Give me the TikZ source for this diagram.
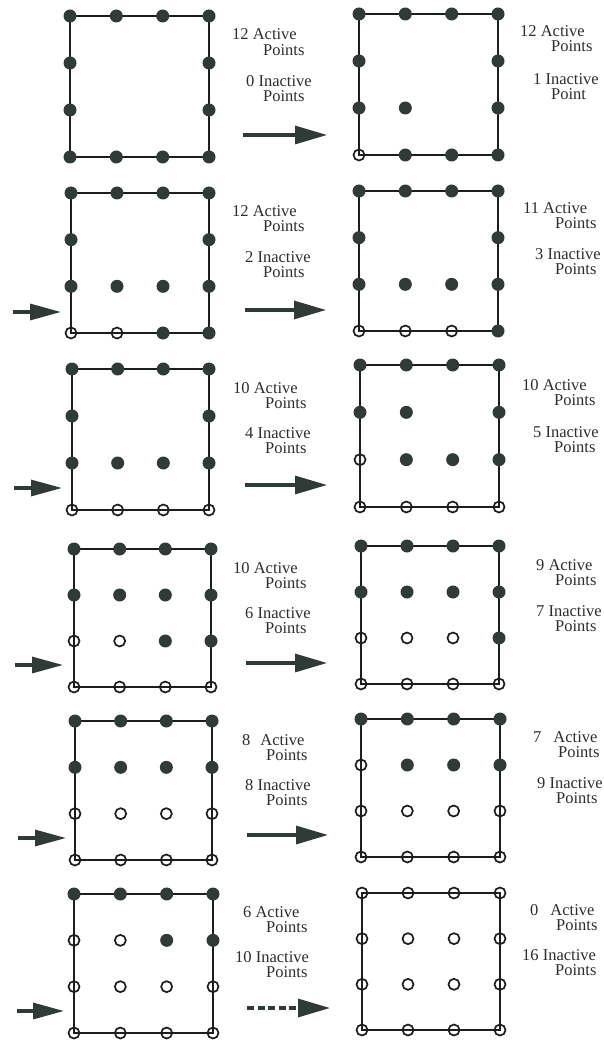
\documentclass[tikz,border=0pt]{standalone}
\usepackage{fontspec}
\setmainfont{Liberation Serif}
\usetikzlibrary{arrows.meta,backgrounds}

\definecolor{dotfill}{RGB}{48,58,54}
\definecolor{edgeink}{RGB}{28,30,29}
\definecolor{labelink}{RGB}{45,45,45}

\tikzset{
  act/.style={circle, fill=dotfill, inner sep=0pt, minimum size=13pt},
  inact/.style={circle, draw=edgeink, line width=1.7pt, inner sep=0pt, minimum size=11pt},
  vac/.style={coordinate},
  frame/.style={draw=edgeink, line width=1.5pt},
  flow/.style={draw=dotfill, line width=3.2pt, -{Triangle[length=32pt,width=18pt]}},
  flowdash/.style={flow, dash pattern=on 7pt off 3.5pt},
  feed/.style={draw=dotfill, line width=3.2pt, -{Triangle[length=31pt,width=16pt]}},
  lbl/.style={anchor=base west, inner sep=0pt, text=labelink,
              font=\fontsize{16.5}{18}\selectfont},
}

% #1 name, #2/#3 left/right column x, #4/#5 top/bottom row y,
% #6 sixteen states, row by row (act / inact / vac)
\newcommand\pointgrid[6]{%
  \foreach \s [count=\i from 0] in {#6}{%
    \pgfmathtruncatemacro\rr{int(\i/4)}%
    \pgfmathtruncatemacro\cc{mod(\i,4)}%
    \node[\s] (#1-\rr-\cc) at ({#2+\cc*(#3-#2)/3},{#4+\rr*(#5-#4)/3}) {};
  }%
  \begin{scope}[on background layer]
    \draw[frame] (#1-0-0.center) -- (#1-0-3.center) -- (#1-3-3.center)
                 -- (#1-3-0.center) -- cycle;
  \end{scope}%
}

\begin{document}
\begin{tikzpicture}[x=1pt,y=-1pt]
\useasboundingbox (0,0) rectangle (603,1040);

% ---- grids ----
\pointgrid{L1}{70}{209}{16}{157}{act,act,act,act, act,vac,vac,act, act,vac,vac,act, act,act,act,act}
\pointgrid{R1}{359}{498}{14}{155}{act,act,act,act, act,vac,vac,act, act,act,vac,act, inact,act,act,act}
\pointgrid{L2}{71}{209}{193}{333}{act,act,act,act, act,vac,vac,act, act,act,act,act, inact,inact,act,act}
\pointgrid{R2}{359}{498}{191}{331}{act,act,act,act, act,vac,vac,act, act,act,act,act, inact,inact,inact,act}
\pointgrid{L3}{72}{209}{369}{510}{act,act,act,act, act,vac,vac,act, act,act,act,act, inact,inact,inact,inact}
\pointgrid{R3}{360}{499}{365}{507}{act,act,act,act, act,act,vac,act, inact,act,act,act, inact,inact,inact,inact}
\pointgrid{L4}{74}{211}{549}{687}{act,act,act,act, act,act,act,act, inact,inact,act,act, inact,inact,inact,inact}
\pointgrid{R4}{361}{499}{546}{684}{act,act,act,act, act,act,act,act, inact,inact,inact,act, inact,inact,inact,inact}
\pointgrid{L5}{75}{212}{721}{860}{act,act,act,act, act,act,act,act, inact,inact,inact,inact, inact,inact,inact,inact}
\pointgrid{R5}{361}{500}{719}{857}{act,act,act,act, inact,act,act,act, inact,inact,inact,inact, inact,inact,inact,inact}
\pointgrid{L6}{74}{213}{894}{1033}{act,act,act,act, inact,inact,act,act, inact,inact,inact,inact, inact,inact,inact,inact}
\pointgrid{R6}{362}{500}{893}{1030}{inact,inact,inact,inact, inact,inact,inact,inact, inact,inact,inact,inact, inact,inact,inact,inact}

% ---- arrows between the grids ----
\coordinate (m1s) at (243,135);  \coordinate (m1e) at (327,135);
\coordinate (m2s) at (245,310);  \coordinate (m2e) at (326,310);
\coordinate (m3s) at (245,485);  \coordinate (m3e) at (327,485);
\coordinate (m4s) at (246,663);  \coordinate (m4e) at (327,663);
\coordinate (m5s) at (247,835);  \coordinate (m5e) at (328,835);
\coordinate (m6s) at (247,1008); \coordinate (m6e) at (330,1008);
\draw[flow] (m1s) -- (m1e);
\draw[flow] (m2s) -- (m2e);
\draw[flow] (m3s) -- (m3e);
\draw[flow] (m4s) -- (m4e);
\draw[flow] (m5s) -- (m5e);
\draw[flowdash] (m6s) -- (m6e);

% ---- arrows entering the left grids ----
\coordinate (f2s) at (13,312);  \coordinate (f2e) at (61,312);
\coordinate (f3s) at (14,488);  \coordinate (f3e) at (62,488);
\coordinate (f4s) at (15,665);  \coordinate (f4e) at (63,665);
\coordinate (f5s) at (18,838);  \coordinate (f5e) at (66,838);
\coordinate (f6s) at (17,1011); \coordinate (f6e) at (64,1011);
\draw[feed] (f2s) -- (f2e);
\draw[feed] (f3s) -- (f3e);
\draw[feed] (f4s) -- (f4e);
\draw[feed] (f5s) -- (f5e);
\draw[feed] (f6s) -- (f6e);

% ---- counts, left column ----
\node[lbl] (tL1a) at (232,40)  {12 Active};
\node[lbl] (tL1b) at (263,56)  {Points};
\node[lbl] (tL1c) at (246,87)  {0 Inactive};
\node[lbl] (tL1d) at (263,102) {Points};

\node[lbl] (tL2a) at (232,217) {12 Active};
\node[lbl] (tL2b) at (263,232) {Points};
\node[lbl] (tL2c) at (245,263) {2 Inactive};
\node[lbl] (tL2d) at (263,278) {Points};

\node[lbl] (tL3a) at (233,393) {10 Active};
\node[lbl] (tL3b) at (265,408) {Points};
\node[lbl] (tL3c) at (245,438) {4 Inactive};
\node[lbl] (tL3d) at (265,453) {Points};

\node[lbl] (tL4a) at (233,573) {10 Active};
\node[lbl] (tL4b) at (265,588) {Points};
\node[lbl] (tL4c) at (245,618) {6 Inactive};
\node[lbl] (tL4d) at (265,633) {Points};

\node[lbl] (tL5a) at (242,745) {8\hspace{10pt}Active};
\node[lbl] (tL5b) at (266,760) {Points};
\node[lbl] (tL5c) at (245,790) {8 Inactive};
\node[lbl] (tL5d) at (266,805) {Points};

\node[lbl] (tL6a) at (243,917) {6 Active};
\node[lbl] (tL6b) at (266,932) {Points};
\node[lbl] (tL6c) at (235,962) {10 Inactive};
\node[lbl] (tL6d) at (266,977) {Points};

% ---- counts, right column ----
\node[lbl] (tR1a) at (520,37)  {12 Active};
\node[lbl] (tR1b) at (551,52)  {Points};
\node[lbl] (tR1c) at (533,85)  {1 Inactive};
\node[lbl] (tR1d) at (551,100) {Point};

\node[lbl] (tR2a) at (523,214) {11 Active};
\node[lbl] (tR2b) at (555,229) {Points};
\node[lbl] (tR2c) at (535,260) {3 Inactive};
\node[lbl] (tR2d) at (555,275) {Points};

\node[lbl] (tR3a) at (522,390) {10 Active};
\node[lbl] (tR3b) at (554,405) {Points};
\node[lbl] (tR3c) at (533,437) {5 Inactive};
\node[lbl] (tR3d) at (554,452) {Points};

\node[lbl] (tR4a) at (536,570) {9 Active};
\node[lbl] (tR4b) at (555,585) {Points};
\node[lbl] (tR4c) at (536,616) {7 Inactive};
\node[lbl] (tR4d) at (555,631) {Points};

\node[lbl] (tR5a) at (533,742) {7\hspace{12pt}Active};
\node[lbl] (tR5b) at (558,757) {Points};
\node[lbl] (tR5c) at (537,788) {9 Inactive};
\node[lbl] (tR5d) at (556,803) {Points};

\node[lbl] (tR6a) at (530,915) {0\hspace{12pt}Active};
\node[lbl] (tR6b) at (556,930) {Points};
\node[lbl] (tR6c) at (522,960) {16 Inactive};
\node[lbl] (tR6d) at (555,975) {Points};
\end{tikzpicture}
\end{document}
